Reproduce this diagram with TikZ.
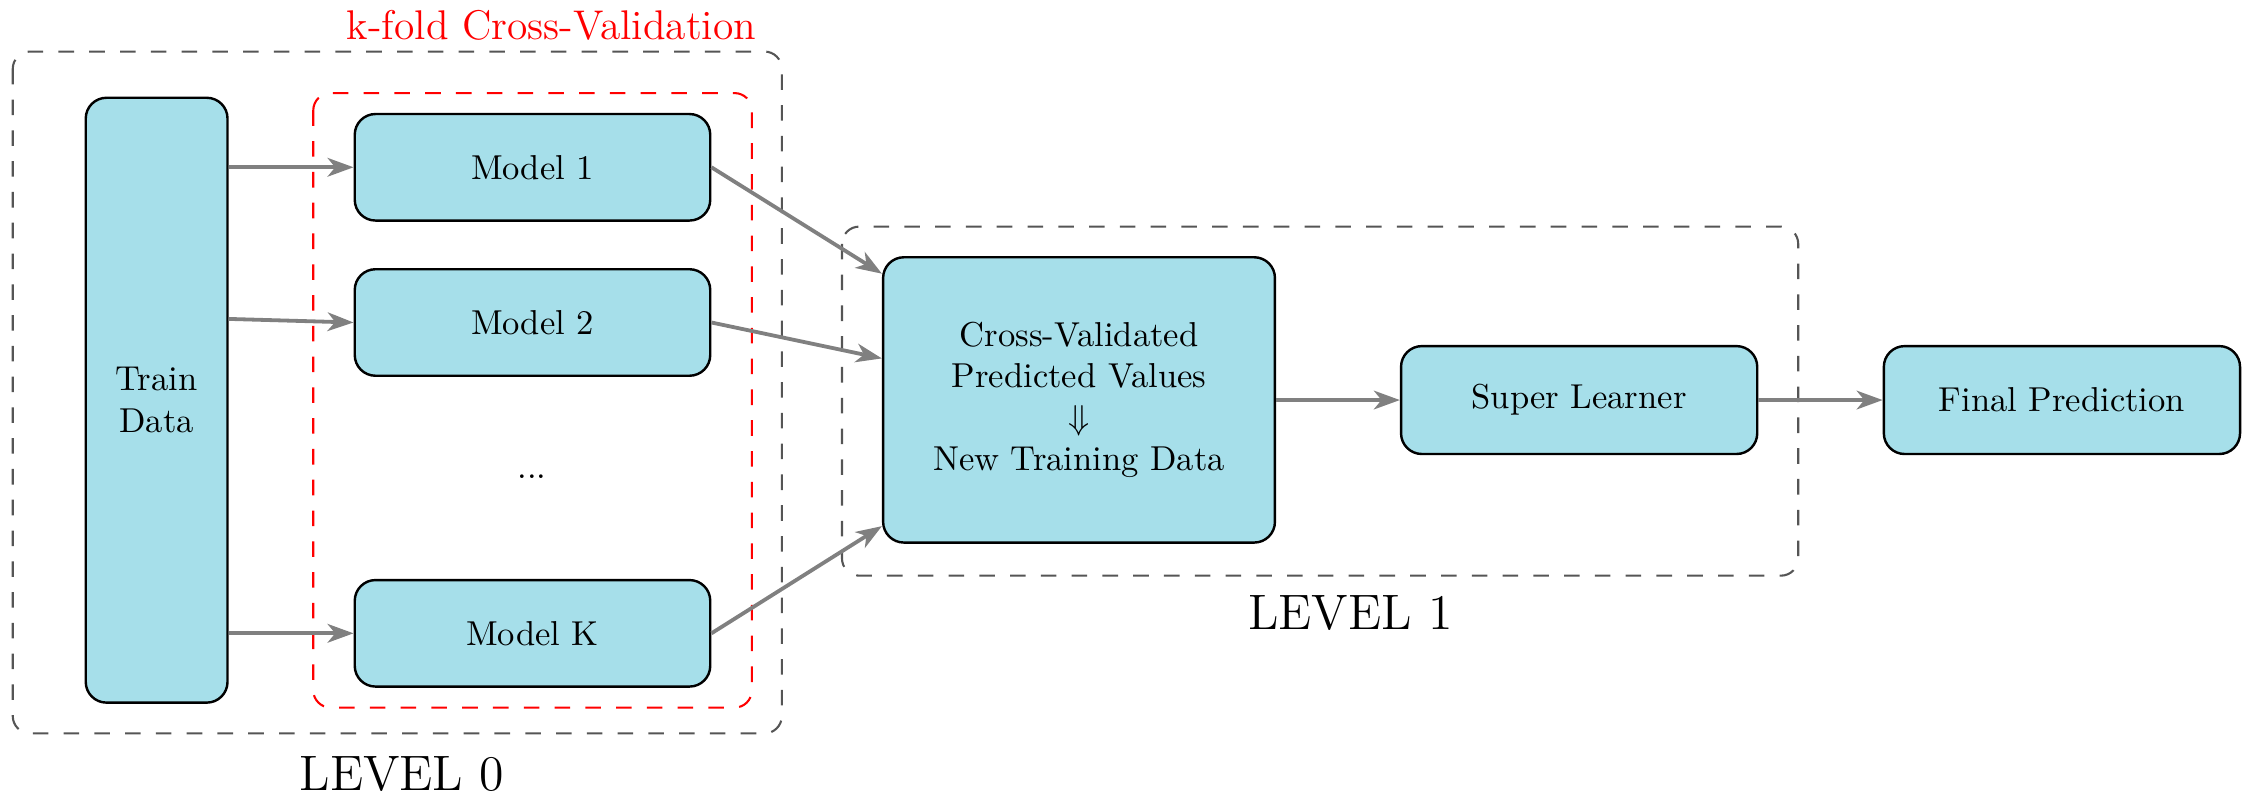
\documentclass[tikz,border=0pt]{standalone}
\usetikzlibrary{arrows.meta,calc}
\definecolor{boxfill}{HTML}{A6DFEA}
\definecolor{grpgray}{HTML}{555555}
\begin{document}
\begin{tikzpicture}[x=0.4142pt,y=-0.4142pt,
  box/.style={draw=black, line width=0.7pt, fill=boxfill, rounded corners=6pt, inner sep=0pt, align=center},
  arr/.style={draw=gray, line width=1.1pt, -{Stealth[length=7.5pt,width=5.4pt,inset=2.2pt]}},
  grpbox/.style={draw=grpgray, line width=0.6pt, dash pattern=on 4.5pt off 4.4pt, rounded corners=5pt},
  lbl/.style={inner sep=0pt, font=\Large}]
\useasboundingbox (0,0) rectangle (1568,556);

% group frames
\draw[grpbox] (8.9,36) rectangle (545.8,512);
\draw[grpbox, draw=red] (218.7,65) rectangle (524.9,494);
\draw[grpbox] (587.8,158.2) rectangle (1255.4,401.9);

% nodes
\node[box, minimum width=41pt, minimum height=174.9pt] (train) at (109.35,279.4) {Train\\Data};
\node[box, minimum width=102.8pt, minimum height=30.8pt] (m1) at (371.75,116.8) {Model 1};
\node[box, minimum width=102.8pt, minimum height=30.8pt] (m2) at (371.75,225.15) {Model 2};
\node[inner sep=0pt, anchor=base] (dots) at (371.5,334.2) {...};
\node[box, minimum width=102.8pt, minimum height=30.8pt] (mK) at (371.75,442.15) {Model K};
\node[box, minimum width=113.3pt, minimum height=82.5pt] (cv) at (753.3,279.2) {Cross-Validated\\Predicted Values\\$\Downarrow$\\New Training Data};
\node[box, minimum width=103pt, minimum height=31.2pt] (sl) at (1102.45,279.3) {Super Learner};
\node[box, minimum width=103pt, minimum height=31.2pt] (fp) at (1439.5,279.3) {Final Prediction};

% labels
\node[inner sep=0pt, anchor=base east, text=red, font=\large] (kfold) at (528.3,27.9) {k-fold Cross-Validation};
\node[lbl, anchor=base] (lv0) at (280.5,551.8) {LEVEL 0};
\node[lbl, anchor=base] (lv1) at (942.8,439.8) {LEVEL 1};

% connectors
\draw[arr] (train.east |- m1.west) -- (m1.west);
\draw[arr] ([yshift=23.5pt]train.east) -- (m2.west);
\draw[arr] (train.east |- mK.west) -- (mK.west);
\draw[arr] (m1.east) -- ([yshift=-5.1pt]cv.north west);
\draw[arr] (m2.east) -- ([yshift=12pt]cv.west);
\draw[arr] (mK.east) -- ([yshift=5.1pt]cv.south west);
\draw[arr] (cv.east) -- (sl.west);
\draw[arr] (sl.east) -- (fp.west);
\end{tikzpicture}
\end{document}
